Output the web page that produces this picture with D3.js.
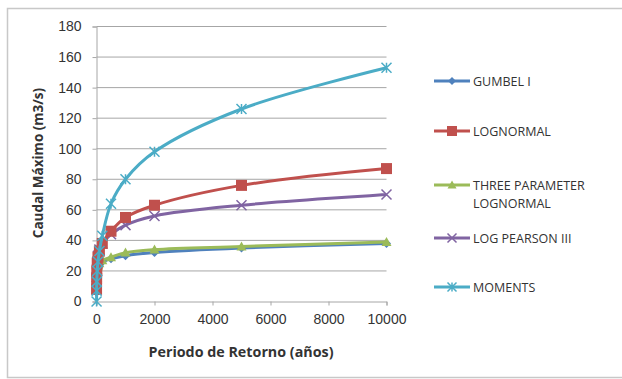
<!DOCTYPE html>
<html><head><meta charset="utf-8">
<script src="https://cdn.jsdelivr.net/npm/d3@7"></script>
<style>body{margin:0;background:#fff;}svg{display:block;font-family:"Open Sans","Liberation Sans",sans-serif;}</style>
</head><body>
<svg id="c" width="622" height="379"></svg>
<script>
const periods = [2, 5, 10, 25, 50, 100, 200, 500, 1000, 2000, 5000, 10000];
const seriesNames = ["GUMBEL I", "LOGNORMAL", "THREE PARAMETER LOGNORMAL", "LOG PEARSON III", "MOMENTS"];
const gumbel = [6, 12, 16, 20, 22, 24, 26, 28, 30, 32, 35, 38];
const lognormal = [8, 15, 20, 25, 29, 33, 38, 46, 55, 63, 76, 87];
const threeParam = [8, 14, 18, 21, 23, 25, 27, 29, 32, 34, 36, 39];
const logPearson = [8, 16, 21, 26, 30, 34, 38, 44, 50, 56, 63, 70];
const moments = [0, 7, 13, 20, 26, 33, 43, 64, 80, 98, 126, 153];
const xTicks = [0, 2000, 4000, 6000, 8000, 10000];
const yTicks = [0, 20, 40, 60, 80, 100, 120, 140, 160, 180];

const colors = ["#4F81BD", "#C0504D", "#9BBB59", "#8064A2", "#4BACC6"];
const shapes = ["diamond", "square", "triangle", "x", "star"];
const allVals = [gumbel, lognormal, threeParam, logPearson, moments];

const svg = d3.select("#c");
svg.append("rect").attr("x", 7.5).attr("y", 8.5).attr("width", 620).attr("height", 369)
  .attr("fill", "none").attr("stroke", "#c8c8c8").attr("stroke-width", 1.5);

const x = d3.scaleLinear().domain([0, 10000]).range([96.5, 386.5]);
const y = d3.scaleLinear().domain([0, 180]).range([301.5, 26.5]);

svg.append("g").selectAll("line").data(yTicks.filter(d => d > 0)).join("line")
  .attr("x1", 96.5).attr("x2", 386.5).attr("y1", d => y(d)).attr("y2", d => y(d))
  .attr("stroke", "#a6a6a6").attr("stroke-width", 1);

const yAxis = d3.axisLeft(y).tickValues(yTicks).tickSize(4).tickPadding(11).tickFormat(d3.format("d"));
const gy = svg.append("g").attr("transform", "translate(96.5,0)").call(yAxis);
gy.select(".domain").attr("stroke", "#a6a6a6");
gy.selectAll(".tick line").attr("stroke", "#a6a6a6");
gy.selectAll("text").attr("font-size", 14).attr("fill", "#333");

const xAxis = d3.axisBottom(x).tickValues(xTicks).tickSize(4).tickPadding(9).tickFormat(d3.format("d"));
const gx = svg.append("g").attr("transform", "translate(0,301.5)").call(xAxis);
gx.select(".domain").attr("stroke", "#a6a6a6");
gx.selectAll(".tick line").attr("stroke", "#a6a6a6");
gx.selectAll("text").attr("font-size", 14).attr("fill", "#333");

svg.append("text").attr("x", 241).attr("y", 357).attr("text-anchor", "middle")
  .attr("font-size", 14.3).attr("font-weight", "bold").attr("fill", "#333")
  .text("Periodo de Retorno (años)");
svg.append("text").attr("transform", "translate(43,163) rotate(-90)").attr("text-anchor", "middle")
  .attr("font-size", 13.5).attr("font-weight", "bold").attr("fill", "#333")
  .text("Caudal Máximo (m3/s)");

function marker(g, shape, color, size) {
  const s = size;
  if (shape === "diamond") {
    g.append("path").attr("d", `M0,${-s}L${s},0L0,${s}L${-s},0Z`).attr("fill", color);
  } else if (shape === "square") {
    g.append("rect").attr("x", -s).attr("y", -s).attr("width", 2*s).attr("height", 2*s).attr("fill", color);
  } else if (shape === "triangle") {
    g.append("path").attr("d", `M0,${-s}L${s},${s*0.8}L${-s},${s*0.8}Z`).attr("fill", color);
  } else if (shape === "x") {
    g.append("path").attr("d", `M${-s},${-s}L${s},${s}M${-s},${s}L${s},${-s}`).attr("stroke", color).attr("stroke-width", 1.5);
  } else if (shape === "star") {
    g.append("path").attr("d", `M${-s},${-s}L${s},${s}M${-s},${s}L${s},${-s}M0,${-s}L0,${s}`).attr("stroke", color).attr("stroke-width", 1.5);
  }
}

const line = d3.line().x(d => x(d[0])).y(d => y(d[1])).curve(d3.curveCatmullRom.alpha(0.5));
const msize = [4.5, 5.5, 5, 5, 5];
const order = [0, 2, 3, 1, 4];
order.forEach(i => {
  const pts = periods.map((p, j) => [p, allVals[i][j]]);
  svg.append("path").datum(pts).attr("d", line).attr("fill", "none")
    .attr("stroke", colors[i]).attr("stroke-width", 3);
  pts.forEach(p => {
    const g = svg.append("g").attr("transform", `translate(${x(p[0])},${y(p[1])})`);
    marker(g, shapes[i], colors[i], msize[i]);
  });
});

const legendY = [81, 131, 185, 238, 287];
seriesNames.forEach((name, i) => {
  const g = svg.append("g").attr("transform", `translate(0,${legendY[i]})`);
  g.append("line").attr("x1", 434).attr("x2", 470).attr("y1", 0).attr("y2", 0)
    .attr("stroke", colors[i]).attr("stroke-width", 3);
  const m = g.append("g").attr("transform", "translate(452,0)");
  marker(m, shapes[i], colors[i], msize[i] - 0.5);
  const t = g.append("text").attr("x", 473).attr("y", 4.5).attr("font-size", 12.5).attr("fill", "#333");
  if (name === "THREE PARAMETER LOGNORMAL") {
    t.append("tspan").attr("x", 473).text("THREE PARAMETER");
    t.append("tspan").attr("x", 473).attr("dy", 18).text("LOGNORMAL");
  } else t.text(name);
});
</script>
</body></html>
